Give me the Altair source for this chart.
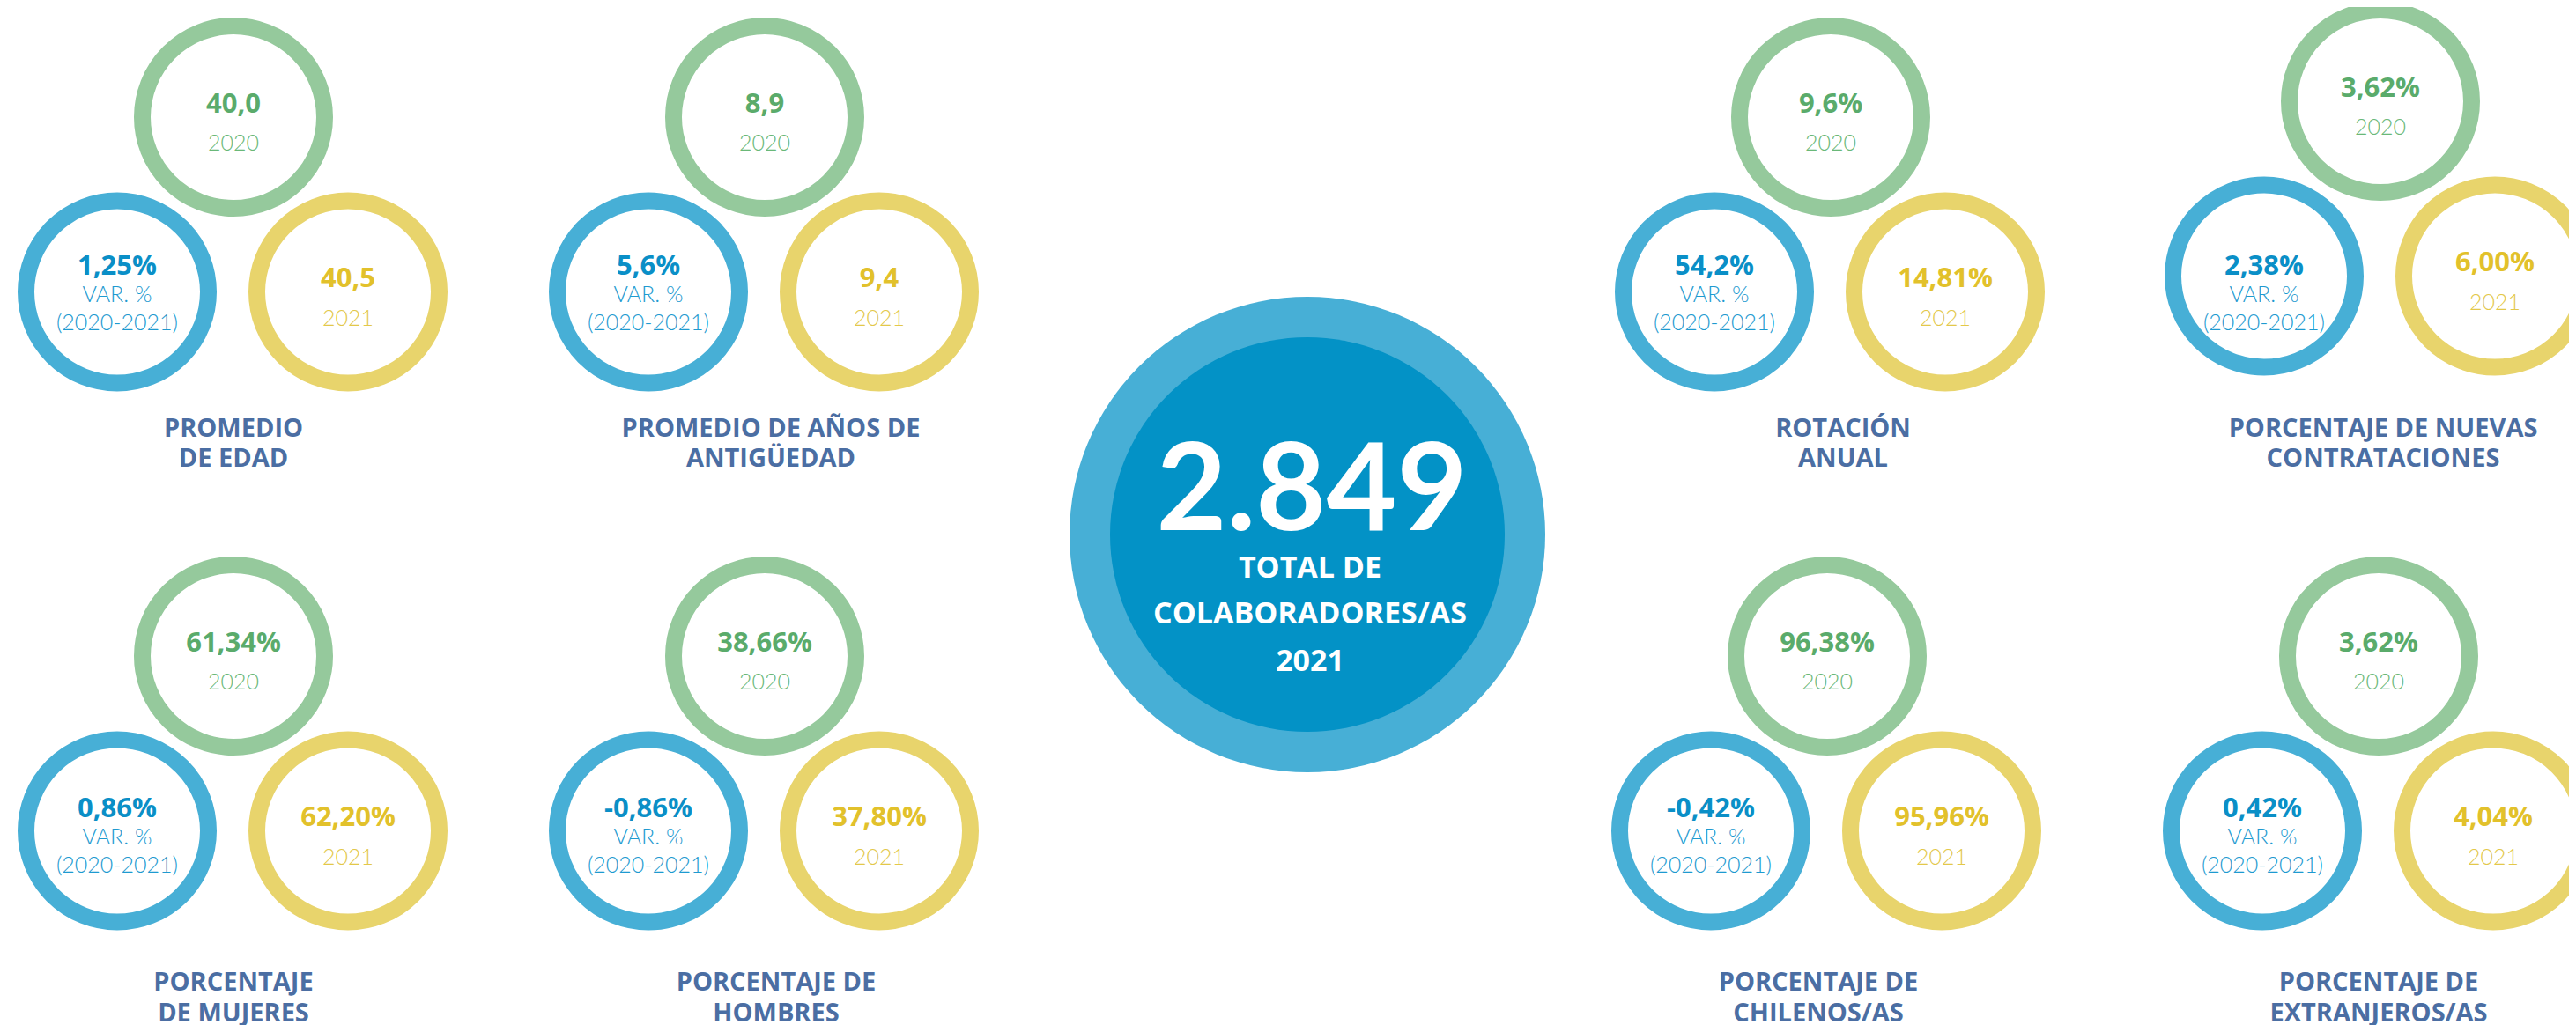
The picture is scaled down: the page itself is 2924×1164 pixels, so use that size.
import altair as alt
import pandas as pd

# ---------------- data ----------------
titles = [
    ["PROMEDIO", "DE EDAD"],
    ["PROMEDIO DE AÑOS DE", "ANTIGÜEDAD"],
    ["ROTACIÓN", "ANUAL"],
    ["PORCENTAJE DE NUEVAS", "CONTRATACIONES"],
    ["PORCENTAJE", "DE MUJERES"],
    ["PORCENTAJE DE", "HOMBRES"],
    ["PORCENTAJE DE", "CHILENOS/AS"],
    ["PORCENTAJE DE", "EXTRANJEROS/AS"],
]
values_2020 = ["40,0", "8,9", "9,6%", "3,62%", "61,34%", "38,66%", "96,38%", "3,62%"]
values_2021 = ["40,5", "9,4", "14,81%", "6,00%", "62,20%", "37,80%", "95,96%", "4,04%"]
variation = ["1,25%", "5,6%", "54,2%", "2,38%", "0,86%", "-0,86%", "-0,42%", "0,42%"]
year_labels = ["2020", "2021"]
var_labels = ["VAR. %", "(2020-2021)"]
total_value = "2.849"
total_label = ["TOTAL DE", "COLABORADORES/AS", "2021"]

# ---------------- layout (page pixels) ----------------
W, H = 2908, 1156
green_x = [265, 868, 2078, 2702, 265, 868, 2074, 2700]
row_green_y = [133, 745]
panel_shift = [0, 0, 0, -18, 0, 0, 0, 0]
blue_text_y = [332, 948]
title_x = [265, 875, 2092, 2705, 265, 881, 2064, 2700]
title_y = [[496, 530], [1125, 1160]]
center = (1484, 607)

ring_colors = {"green": "#95c99c", "blue": "#47afd6", "yellow": "#e8d46c"}
value_colors = {"green": "#5aab6b", "blue": "#0a8fc7", "yellow": "#e2c12b"}
light_colors = {"green": "#6ab878", "blue": "#1e9ad0", "yellow": "#e3c84a"}
keys = ["green", "blue", "yellow"]

rings, vals, lights, ttl = [], [], [], []
for i in range(8):
    row = i // 4
    gx = green_x[i]
    gy = row_green_y[row] + panel_shift[i]
    by = gy + 198.5
    bx, yx = gx - 132, gx + 130
    rings += [dict(x=gx, y=gy, c="green"), dict(x=bx, y=by, c="blue"), dict(x=yx, y=by, c="yellow")]
    vals.append(dict(x=gx, y=gy - 5.5, t=values_2020[i], c="green"))
    vals.append(dict(x=yx, y=by - 5.5, t=values_2021[i], c="yellow"))
    lights.append(dict(x=gx, y=gy + 38, t=year_labels[0], c="green"))
    lights.append(dict(x=yx, y=by + 38.5, t=year_labels[1], c="yellow"))
    bty = blue_text_y[row]
    vals.append(dict(x=bx, y=bty - 20, t=variation[i], c="blue"))
    lights.append(dict(x=bx, y=bty + 11, t=var_labels[0], c="blue"))
    lights.append(dict(x=bx, y=bty + 43, t=var_labels[1], c="blue"))
    for k, line in enumerate(titles[i]):
        ttl.append(dict(x=title_x[i], y=title_y[row][k], t=line))

rings = pd.DataFrame(rings)
vals = pd.DataFrame(vals)
lights = pd.DataFrame(lights)
ttl = pd.DataFrame(ttl)
center_df = pd.DataFrame([dict(x=center[0], y=center[1])])
center_txt = pd.DataFrame([dict(x=1489, y=602, t=total_value)])
center_lbl = pd.DataFrame([
    dict(x=1487, y=656, t=total_label[0]),
    dict(x=1487, y=708, t=total_label[1]),
    dict(x=1487, y=762, t=total_label[2]),
])

X = alt.X("x:Q", scale=alt.Scale(domain=[8, 8 + W]), axis=None)
Y = alt.Y("y:Q", scale=alt.Scale(domain=[8 + H, 8]), axis=None)


def cscale(d):
    return alt.Color("c:N", scale=alt.Scale(domain=keys, range=[d[k] for k in keys]), legend=None)


ring_layer = alt.Chart(rings).mark_point(
    shape="circle", filled=False, strokeWidth=19, size=207 ** 2, opacity=1
).encode(x=X, y=Y, color=cscale(ring_colors))

outer = alt.Chart(center_df).mark_circle(size=540 ** 2, color="#47afd6", opacity=1).encode(x=X, y=Y)
inner = alt.Chart(center_df).mark_circle(size=448 ** 2, color="#0392c6", opacity=1).encode(x=X, y=Y)

val_layer = alt.Chart(vals).mark_text(
    font="Open Sans", fontWeight="bold", fontSize=31, baseline="alphabetic", align="center"
).encode(x=X, y=Y, text="t:N", color=cscale(value_colors))

light_layer = alt.Chart(lights).mark_text(
    font="Lato", fontWeight=300, fontSize=25, baseline="alphabetic", align="center"
).encode(x=X, y=Y, text="t:N", color=cscale(light_colors))

title_layer = alt.Chart(ttl).mark_text(
    font="Open Sans", fontWeight="bold", fontSize=29, baseline="alphabetic", align="center", color="#4b6ea3"
).encode(x=X, y=Y, text="t:N")

big_layer = alt.Chart(center_txt).mark_text(
    font="Lato", fontWeight="bold", fontSize=138, baseline="alphabetic", align="center", color="#ffffff"
).encode(x=X, y=Y, text="t:N")

lbl_layer = alt.Chart(center_lbl).mark_text(
    font="Open Sans", fontWeight="bold", fontSize=34, baseline="alphabetic", align="center", color="#ffffff"
).encode(x=X, y=Y, text="t:N")

chart = alt.layer(
    outer, inner, ring_layer, val_layer, light_layer, title_layer, big_layer, lbl_layer
).resolve_scale(color="independent").properties(
    width=W, height=H, autosize=alt.AutoSizeParams(type="none"), padding=0
).configure_view(stroke=None)

chart.save("out.html", embed_options={"renderer": "svg", "actions": False})
